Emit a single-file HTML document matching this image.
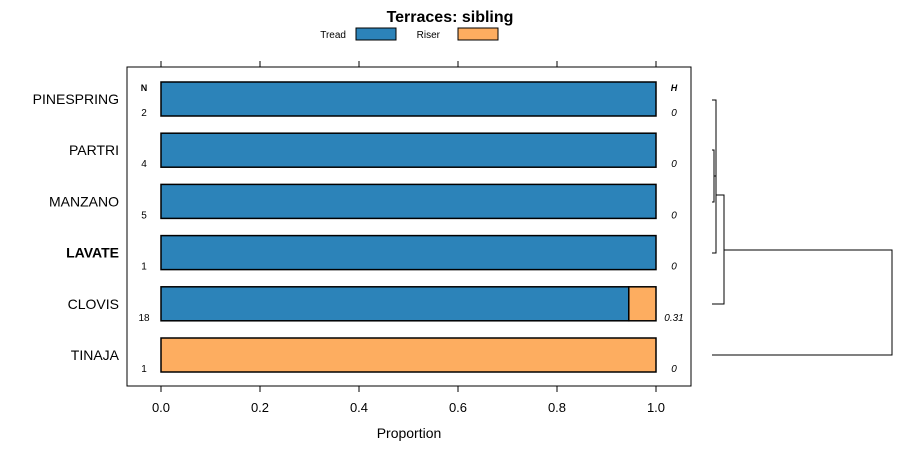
<!DOCTYPE html>
<html><head><meta charset="utf-8"><style>
body{margin:0;background:#fff;font-family:"Liberation Sans",sans-serif}
svg text{font-family:"Liberation Sans",sans-serif}
</style></head><body>
<svg width="900" height="460" viewBox="0 0 900 460" id="c">
<text x="450" y="22" text-anchor="middle" font-size="16" font-weight="bold">Terraces: sibling</text>
<g>
<text x="346" y="38" text-anchor="end" font-size="10">Tread</text>
<rect x="356" y="28" width="40" height="12" fill="#2c83b9" stroke="#000"/>
<text x="440" y="38" text-anchor="end" font-size="10">Riser</text>
<rect x="458" y="28" width="40" height="12" fill="#fdad60" stroke="#000"/>
</g>
<rect x="127" y="67" width="564" height="319" fill="none" stroke="#000"/>
<text x="144" y="91" text-anchor="middle" font-size="9" font-weight="bold">N</text>
<text x="674" y="91" text-anchor="middle" font-size="9" font-weight="bold" font-style="italic">H</text>
<g id="bars"></g>
<g id="axis"></g>
<text x="409" y="438" text-anchor="middle" font-size="14">Proportion</text>
<g stroke="#000" fill="none" stroke-width="1">
<polyline points="712,100 716,100 716,253 712,253"/>
<polyline points="712,150 714,150 714,202 712,202"/>
<line x1="714" y1="176" x2="716" y2="176"/>
<polyline points="716,195 724,195 724,304 712,304"/>
<polyline points="724,250 892,250 892,355 712,355"/>
</g>
</svg>
<script>
const categories=["PINESPRING","PARTRI","MANZANO","LAVATE","CLOVIS","TINAJA"];
const tread=[1,1,1,1,0.945,0];
const riser=[0,0,0,0,0.055,1];
const nVals=["2","4","5","1","18","1"];
const hVals=["0","0","0","0","0.31","0"];
const ticks=[0,0.2,0.4,0.6,0.8,1.0];
const tickLabels=["0.0","0.2","0.4","0.6","0.8","1.0"];
const NS="http://www.w3.org/2000/svg";
const x=v=>161+v*495;
const yc=i=>99+i*51.2;
const bars=document.getElementById('bars'),axis=document.getElementById('axis');
function mk(tag,attrs,parent,txt){const e=document.createElementNS(NS,tag);for(const k in attrs)e.setAttribute(k,attrs[k]);if(txt!==undefined)e.textContent=txt;parent.appendChild(e);return e;}
categories.forEach((c,i)=>{
  const y=yc(i);
  const lab=mk('text',{x:119,y:y+5,'text-anchor':'end','font-size':14,'font-weight':c==="LAVATE"?'bold':'normal'},bars,c);
  
  
  const a=mk('rect',{x:x(0),y:y-17,width:x(tread[i])-x(0),height:34,fill:'#2c83b9',stroke:'#000','stroke-width':1.5},bars);
  
  
  const b=mk('rect',{x:x(tread[i]),y:y-17,width:x(tread[i]+riser[i])-x(tread[i]),height:34,fill:'#fdad60',stroke:'#000','stroke-width':1.5},bars);
  
  
  const n=mk('text',{x:144,y:y+17,'text-anchor':'middle','font-size':10},bars,nVals[i]);
  
  
  const h=mk('text',{x:674,y:y+17,'text-anchor':'middle','font-size':10,'font-style':'italic'},bars,hVals[i]);
  
  
});
ticks.forEach((t,i)=>{
  const l1=mk('line',{x1:x(t),x2:x(t),y1:61,y2:67,stroke:'#000'},axis);
  
  
  const l2=mk('line',{x1:x(t),x2:x(t),y1:386,y2:392,stroke:'#000'},axis);
  
  
  const tl=mk('text',{x:x(t),y:412,'text-anchor':'middle','font-size':13},axis,tickLabels[i]);
  
  
});
</script>
</body></html>
